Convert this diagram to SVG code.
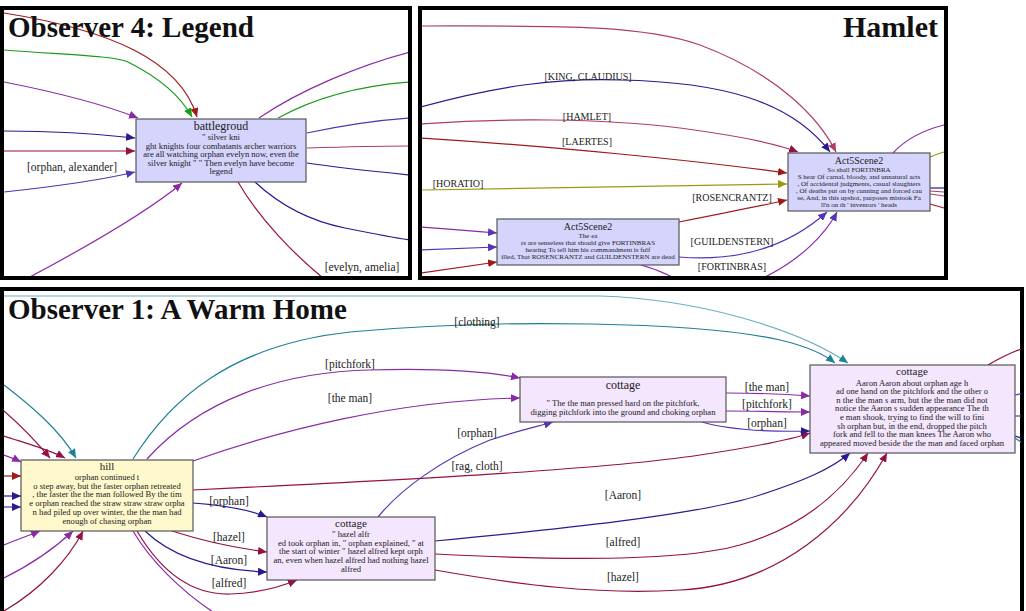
<svg xmlns="http://www.w3.org/2000/svg" width="1026" height="611" viewBox="0 0 1026 611">
<style>
.panel{fill:#fff;stroke:#000;stroke-width:4}
.title{font-family:"Liberation Serif",serif;font-weight:bold;font-size:29px;fill:#111}
.node rect{stroke:#555;stroke-width:1.2}
.blue rect{fill:#d4d4fc}
.yel rect{fill:#fff8cc}
.lav rect{fill:#f3e6fd}
.nt{font-family:"Liberation Serif",serif;font-size:11px;fill:#222;text-anchor:middle}
.tx{font-family:"Liberation Serif",serif;font-size:8.6px;fill:#222;text-anchor:middle}
.tx7{font-family:"Liberation Serif",serif;font-size:7px;fill:#222;text-anchor:middle}
.lb{font-family:"Liberation Serif",serif;font-size:11.5px;fill:#222;text-anchor:middle}
.lb2{font-family:"Liberation Serif",serif;font-size:10px;fill:#222;text-anchor:middle}
.e{fill:none;stroke-width:1.2}
.red{stroke:#a01818}.mar{stroke:#951045}.pink{stroke:#b03c68}.pur{stroke:#8a2aa8}.navy{stroke:#2a1a90}.vio{stroke:#5535b5}.teal{stroke:#1f7f95}.grn{stroke:#1a9a1a}.olv{stroke:#9a9a10}
</style>
<defs>
<marker id="mRed" markerUnits="userSpaceOnUse" markerWidth="9" markerHeight="8" refX="9" refY="4" orient="auto"><path d="M0,0L9,4L0,8z" fill="#a01818"/></marker>
<marker id="mMar" markerUnits="userSpaceOnUse" markerWidth="9" markerHeight="8" refX="9" refY="4" orient="auto"><path d="M0,0L9,4L0,8z" fill="#951045"/></marker>
<marker id="mPink" markerUnits="userSpaceOnUse" markerWidth="9" markerHeight="8" refX="9" refY="4" orient="auto"><path d="M0,0L9,4L0,8z" fill="#b03c68"/></marker>
<marker id="mPur" markerUnits="userSpaceOnUse" markerWidth="9" markerHeight="8" refX="9" refY="4" orient="auto"><path d="M0,0L9,4L0,8z" fill="#8a2aa8"/></marker>
<marker id="mNavy" markerUnits="userSpaceOnUse" markerWidth="9" markerHeight="8" refX="9" refY="4" orient="auto"><path d="M0,0L9,4L0,8z" fill="#2a1a90"/></marker>
<marker id="mVio" markerUnits="userSpaceOnUse" markerWidth="9" markerHeight="8" refX="9" refY="4" orient="auto"><path d="M0,0L9,4L0,8z" fill="#5535b5"/></marker>
<marker id="mTeal" markerUnits="userSpaceOnUse" markerWidth="9" markerHeight="8" refX="9" refY="4" orient="auto"><path d="M0,0L9,4L0,8z" fill="#1f7f95"/></marker>
<marker id="mGrn" markerUnits="userSpaceOnUse" markerWidth="9" markerHeight="8" refX="9" refY="4" orient="auto"><path d="M0,0L9,4L0,8z" fill="#1a9a1a"/></marker>
<marker id="mOlv" markerUnits="userSpaceOnUse" markerWidth="9" markerHeight="8" refX="9" refY="4" orient="auto"><path d="M0,0L9,4L0,8z" fill="#9a9a10"/></marker>
<clipPath id="c1"><rect x="4" y="10" width="404" height="266"/></clipPath>
<clipPath id="c2"><rect x="422" y="10" width="522" height="266"/></clipPath>
<clipPath id="c3"><rect x="4" y="292" width="1017" height="319"/></clipPath>
</defs>
<rect width="1026" height="611" fill="#fff"/>

<!-- Panel 1 -->
<rect class="panel" x="2" y="8" width="408" height="270"/>
<g clip-path="url(#c1)">
<g id="edges1">
<path class="e red" d="M4,13 C110,30 180,60 197,117" marker-end="url(#mRed)"/>
<path class="e grn" d="M4,50 C70,55 115,56 128,62 C160,78 180,95 192,117" marker-end="url(#mGrn)"/>
<path class="e pur" d="M4,82 C60,93 110,107 138,118" marker-end="url(#mPur)"/>
<path class="e navy" d="M4,131 C60,131 100,134 135,138" marker-end="url(#mNavy)"/>
<path class="e mar" d="M4,151 L135,151" marker-end="url(#mMar)"/>
<path class="e vio" d="M4,192 C60,186 110,178 135,172" marker-end="url(#mVio)"/>
<path class="e pur" d="M28,278 C90,245 150,210 182,183" marker-end="url(#mPur)"/>
<path class="e pur" d="M259,118 C300,90 360,65 410,52"/>
<path class="e grn" d="M278,118 C320,95 370,85 410,82"/>
<path class="e vio" d="M307,133 C340,126 380,120 410,118"/>
<path class="e pink" d="M307,148 C340,147 380,146 410,146"/>
<path class="e navy" d="M307,163 C340,168 380,172 410,175"/>
<path class="e navy" d="M255,182 C285,210 315,222 345,228 C375,234 395,238 410,240"/>
<path class="e mar" d="M238,182 C260,220 295,255 323,278"/>
</g>
<text class="lb" x="72" y="171">[orphan, alexander]</text>
<text class="lb" x="362" y="271">[evelyn, amelia]</text>
<g id="battleground" class="node blue">
<rect x="136" y="119" width="170" height="63"/>
<text class="nt" x="221" y="130" style="font-size:12px">battlegroud</text>
<text class="tx" x="221" y="140">" silver kni</text>
<text class="tx" x="221" y="148.5">ght knights four combatants archer warriors</text>
<text class="tx" x="221" y="157">are all watching orphan evelyn now, even the</text>
<text class="tx" x="221" y="165.5">silver knight " " Then evelyn have become</text>
<text class="tx" x="221" y="174">legend</text>
</g>
</g>
<text class="title" x="8" y="37">Observer 4: Legend</text>

<!-- Panel 2 -->
<rect class="panel" x="420" y="8" width="526" height="270"/>
<g clip-path="url(#c2)">
<g id="edges2">
<path class="e pink" d="M421,26 C550,26 640,24 700,45 C780,75 820,120 836,152" marker-end="url(#mPink)"/>
<path class="e navy" d="M421,107 C500,85 560,78 620,80 C720,82 790,100 830,152" marker-end="url(#mNavy)"/>
<path class="e pink" d="M421,124 C500,118 600,118 680,128 C740,136 780,145 798,152" marker-end="url(#mMar)"/>
<path class="e red" d="M421,138 C550,146 700,161 787,173" marker-end="url(#mRed)"/>
<path class="e olv" d="M421,190 C550,188 700,185 787,184" marker-end="url(#mOlv)"/>
<path class="e red" d="M679,222 C720,214 760,206 787,200" marker-end="url(#mRed)"/>
<path class="e vio" d="M679,257 C740,262 790,245 827,212" marker-end="url(#mVio)"/>
<path class="e pur" d="M763,278 C800,260 825,235 837,212" marker-end="url(#mVio)"/>
<path class="e pur" d="M421,227 C450,229 475,231 497,233" marker-end="url(#mVio)"/>
<path class="e vio" d="M421,250 C450,249 475,248 497,247" marker-end="url(#mVio)"/>
<path class="e red" d="M421,273 C450,269 475,265 497,262" marker-end="url(#mRed)"/>
<path class="e pur" d="M641,265 C652,268 663,272 674,278"/>
<path class="e pur" d="M893,153 C905,140 920,131 944,125"/>
<path class="e olv" d="M930,157 C935,155 940,153 944,152"/>
<path class="e navy" d="M930,188 L944,188"/>
<path class="e pink" d="M930,191 L944,192"/>
<path class="e pink" d="M930,194 L944,196"/>
<path class="e red" d="M930,204 L944,208"/>
</g>
<text class="lb2" x="588" y="80">[KING, CLAUDIUS]</text>
<text class="lb2" x="587" y="120">[HAMLET]</text>
<text class="lb2" x="587" y="145">[LAERTES]</text>
<text class="lb2" x="458" y="187">[HORATIO]</text>
<text class="lb2" x="732" y="201">[ROSENCRANTZ]</text>
<text class="lb2" x="732" y="245">[GUILDENSTERN]</text>
<text class="lb2" x="732" y="270">[FORTINBRAS]</text>
<g id="act5scene2-b" class="node blue">
<rect x="788" y="153" width="142" height="58"/>
<text class="nt" x="859" y="163.5" style="font-size:10px">Act5Scene2</text>
<text class="tx7" x="859" y="171.5">So shall FORTINBRA</text>
<text class="tx7" x="859" y="178.5">S hear Of carnal, bloody, and unnatural acts</text>
<text class="tx7" x="859" y="185.5">, Of accidental judgments, casual slaughters</text>
<text class="tx7" x="859" y="192.5">, Of deaths put on by cunning and forced cau</text>
<text class="tx7" x="859" y="199.5">se, And, in this upshot, purposes mistook Fa</text>
<text class="tx7" x="859" y="206.5">ll'n on th ' inventors ' heads</text>
</g>
<g id="act5scene2-a" class="node blue">
<rect x="497" y="219" width="182" height="46"/>
<text class="nt" x="588" y="230" style="font-size:10px">Act5Scene2</text>
<text class="tx7" x="588" y="238">The ea</text>
<text class="tx7" x="588" y="245">rs are senseless that should give FORTINBRAS</text>
<text class="tx7" x="588" y="252">hearing To tell him his commandment is fulf</text>
<text class="tx7" x="588" y="259">illed, That ROSENCRANTZ and GUILDENSTERN are dead</text>
</g>
</g>
<text class="title" x="938" y="37" text-anchor="end" style="font-size:30px">Hamlet</text>

<!-- Panel 3 -->
<rect class="panel" x="2" y="289" width="1020" height="330"/>
<g clip-path="url(#c3)">
<g id="edges3">
<path class="e teal" d="M4,296 L600,296 C700,299 800,330 848,363" marker-end="url(#mTeal)" style="stroke:#6aaec4"/>
<path class="e teal" d="M133,459 C170,400 230,345 350,332 C500,318 700,322 780,340 C810,347 825,355 835,363" marker-end="url(#mTeal)"/>
<path class="e pur" d="M147,459 C200,400 280,372 370,370 C440,368 490,372 520,378" marker-end="url(#mPur)"/>
<path class="e pur" d="M193,461 C280,430 400,400 520,398" marker-end="url(#mPur)"/>
<path class="e teal" d="M4,385 C30,405 60,430 76,458" marker-end="url(#mTeal)"/>
<path class="e mar" d="M4,411 C20,425 35,440 50,458" marker-end="url(#mMar)"/>
<path class="e mar" d="M4,436 C25,443 50,450 65,458" marker-end="url(#mMar)"/>
<path class="e pur" d="M4,455 C10,457 15,459 21,462" marker-end="url(#mPur)"/>
<path class="e red" d="M4,476 L21,476" marker-end="url(#mRed)"/>
<path class="e navy" d="M4,496 L21,496" marker-end="url(#mNavy)"/>
<path class="e vio" d="M4,507 L21,507" marker-end="url(#mNavy)"/>
<path class="e pur" d="M4,545 C15,540 28,536 40,531" marker-end="url(#mPur)"/>
<path class="e pur" d="M4,578 C30,565 55,548 73,531" marker-end="url(#mPur)"/>
<path class="e mar" d="M4,611 C40,590 68,560 83,531" marker-end="url(#mMar)"/>
<path class="e pur" d="M133,531 C150,560 180,590 213,612"/>
<path class="e navy" d="M193,503 C220,505 250,510 267,517" marker-end="url(#mNavy)"/>
<path class="e mar" d="M172,531 C200,540 235,548 267,552" marker-end="url(#mMar)"/>
<path class="e navy" d="M145,531 C170,555 210,570 267,572" marker-end="url(#mNavy)"/>
<path class="e mar" d="M137,531 C160,570 190,595 230,594 C260,593 285,585 297,580" marker-end="url(#mMar)"/>
<path class="e mar" d="M193,490 C400,480 600,470 700,455 C760,446 790,440 810,433" marker-end="url(#mMar)"/>
<path class="e vio" d="M378,517 C400,490 440,460 490,440 C520,430 540,426 553,422" marker-end="url(#mVio)"/>
<path class="e navy" d="M435,541 C550,530 700,515 760,495 C800,482 830,470 850,453" marker-end="url(#mNavy)"/>
<path class="e mar" d="M435,554 C550,560 680,562 740,545 C800,528 840,495 868,453" marker-end="url(#mMar)"/>
<path class="e mar" d="M435,570 C520,585 600,595 680,590 C780,585 850,520 887,453" marker-end="url(#mMar)"/>
<path class="e pur" d="M726,393 C760,393 785,394 810,396" marker-end="url(#mPur)"/>
<path class="e pur" d="M726,411 C760,411 785,412 810,412" marker-end="url(#mPur)"/>
<path class="e vio" d="M702,422 C730,430 770,432 810,431" marker-end="url(#mNavy)"/>
<path class="e mar" d="M988,365 C1000,358 1012,352 1024,348"/>
<path class="e vio" d="M1015,395 L1024,393"/>
<path class="e pur" d="M1015,416 L1024,416"/>
<path class="e navy" d="M1015,436 L1024,439"/>
<path class="e teal" d="M1015,438 L1024,444"/>
</g>
<text class="lb" x="477" y="326">[clothing]</text>
<text class="lb" x="350" y="368">[pitchfork]</text>
<text class="lb" x="350" y="402">[the man]</text>
<text class="lb" x="477" y="437">[orphan]</text>
<text class="lb" x="477" y="470">[rag, cloth]</text>
<text class="lb" x="229" y="505">[orphan]</text>
<text class="lb" x="229" y="541">[hazel]</text>
<text class="lb" x="229" y="564">[Aaron]</text>
<text class="lb" x="229" y="587">[alfred]</text>
<text class="lb" x="767" y="391">[the man]</text>
<text class="lb" x="767" y="408">[pitchfork]</text>
<text class="lb" x="767" y="427">[orphan]</text>
<text class="lb" x="623" y="499">[Aaron]</text>
<text class="lb" x="623" y="546">[alfred]</text>
<text class="lb" x="623" y="581">[hazel]</text>
<g id="hill" class="node yel">
<rect x="21" y="460" width="172" height="71"/>
<text class="nt" x="107" y="470">hill</text>
<text class="tx" x="107" y="480">orphan continued t</text>
<text class="tx" x="107" y="488.7">o step away, but the faster orphan retreated</text>
<text class="tx" x="107" y="497.4">, the faster the the man followed By the tim</text>
<text class="tx" x="107" y="506.1">e orphan reached the straw straw straw orpha</text>
<text class="tx" x="107" y="514.8">n had piled up over winter, the the man had</text>
<text class="tx" x="107" y="523.5">enough of chasing orphan</text>
</g>
<g id="cottage-a" class="node lav">
<rect x="267" y="517" width="168" height="63"/>
<text class="nt" x="351" y="527">cottage</text>
<text class="tx" x="351" y="537">" hazel alfr</text>
<text class="tx" x="351" y="545.7">ed took orphan in, " orphan explained, " at</text>
<text class="tx" x="351" y="554.4">the start of winter " hazel alfred kept orph</text>
<text class="tx" x="351" y="563.1">an, even when hazel alfred had nothing hazel</text>
<text class="tx" x="351" y="571.8">alfred</text>
</g>
<g id="cottage-b" class="node lav">
<rect x="520" y="377" width="206" height="45"/>
<text class="nt" x="623" y="389" style="font-size:12px">cottage</text>
<text class="tx" x="623" y="406">" The the man pressed hard on the pitchfork,</text>
<text class="tx" x="623" y="414.7">digging pitchfork into the ground and choking orphan</text>
</g>
<g id="cottage-c" class="node lav">
<rect x="810" y="365" width="205" height="88"/>
<text class="nt" x="912" y="375">cottage</text>
<text class="tx" x="912" y="385.5">Aaron Aaron about orphan age h</text>
<text class="tx" x="912" y="394.1">ad one hand on the pitchfork and the other o</text>
<text class="tx" x="912" y="402.7">n the the man s arm, but the the man did not</text>
<text class="tx" x="912" y="411.3">notice the Aaron s sudden appearance The th</text>
<text class="tx" x="912" y="419.9">e man shook, trying to find the will to fini</text>
<text class="tx" x="912" y="428.5">sh orphan but, in the end, dropped the pitch</text>
<text class="tx" x="912" y="437.1">fork and fell to the man knees The Aaron who</text>
<text class="tx" x="912" y="445.7">appeared moved beside the the man and faced orphan</text>
</g>
</g>
<text class="title" x="8" y="319">Observer 1: A Warm Home</text>
</svg>
